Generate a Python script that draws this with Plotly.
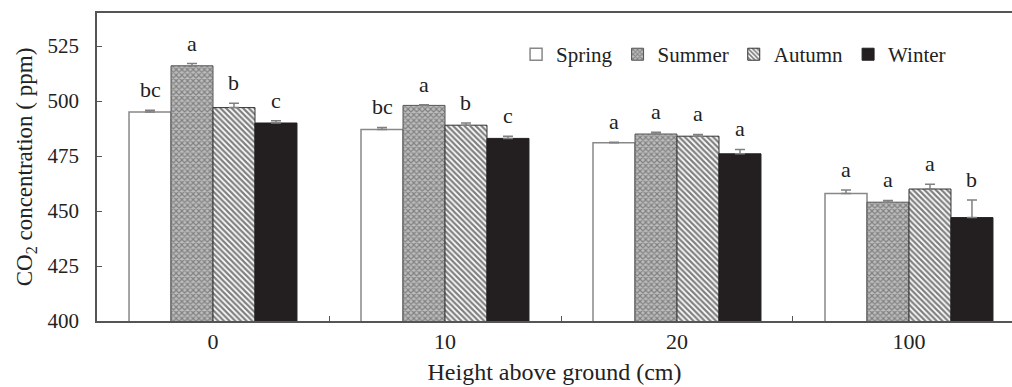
import plotly.graph_objects as go

categories = ["0", "10", "20", "100"]
seasons = ["Spring", "Summer", "Autumn", "Winter"]
spring = [495, 487, 481, 458]
summer = [516, 498, 485, 454]
autumn = [497, 489, 484, 460]
winter = [490, 483, 476, 447]
spring_err = [0.8, 1.0, 0.3, 1.5]
summer_err = [1.0, 0.3, 0.8, 0.8]
autumn_err = [2.0, 1.0, 0.8, 2.2]
winter_err = [1.0, 1.0, 2.0, 8.0]
spring_lbl = ["bc", "bc", "a", "a"]
summer_lbl = ["a", "a", "a", "a"]
autumn_lbl = ["b", "b", "a", "a"]
winter_lbl = ["c", "c", "a", "b"]

FONT = "Times New Roman, Liberation Serif, serif"
values = [spring, summer, autumn, winter]
errs = [spring_err, summer_err, autumn_err, winter_err]
lbls = [spring_lbl, summer_lbl, autumn_lbl, winter_lbl]

styles = [
    dict(color="white", line=dict(color="#888888", width=1.5)),
    dict(color="white", line=dict(color="#555555", width=1),
         pattern=dict(shape="x", fgcolor="#444444", bgcolor="#bdbdbd", size=4, solidity=0.5)),
    dict(color="white", line=dict(color="#333333", width=1),
         pattern=dict(shape="\\", fgcolor="#000000", bgcolor="white", size=4, solidity=0.55)),
    dict(color="#231f20", line=dict(color="#231f20", width=1)),
]

fig = go.Figure()
for i, s in enumerate(seasons):
    fig.add_trace(go.Bar(
        name=s, x=categories, y=values[i], marker=styles[i],
        error_y=dict(type="data", array=errs[i], arrayminus=[0] * 4, symmetric=False,
                     color="#808080", thickness=1.5, width=5),
    ))

# significance letters
n = len(seasons)
bargap = 0.276
bw = (1 - bargap) / n
for i in range(n):
    for j, c in enumerate(categories):
        xpos = j - (1 - bargap) / 2 + bw * (i + 0.5)
        fig.add_annotation(x=xpos, y=values[i][j] + errs[i][j], xref="x", yref="y",
                           text=lbls[i][j], showarrow=False, yanchor="bottom", yshift=6,
                           font=dict(family=FONT, size=22, color="#222"))

fig.update_layout(
    width=1012, height=387,
    margin=dict(l=97, r=0, t=13, b=66),
    paper_bgcolor="white", plot_bgcolor="white",
    barmode="group", bargap=bargap, bargroupgap=0,
    font=dict(family=FONT, color="#222"),
    showlegend=True,
    legend=dict(orientation="h", x=0.458, y=0.865, xanchor="left", yanchor="middle",
                font=dict(family=FONT, size=21, color="#222"), bgcolor="rgba(0,0,0,0)",
                itemwidth=30, traceorder="normal"),
)
fig.update_xaxes(
    type="category", range=[-0.5, 3.444],
    showline=True, linecolor="#555", linewidth=1.5, mirror=True,
    ticks="inside", tickson="boundaries", ticklen=5, tickcolor="#555",
    tickfont=dict(family=FONT, size=22, color="#222"),
    title=dict(text="Height above ground (cm)", font=dict(family=FONT, size=24, color="#222"), standoff=10),
    showgrid=False, automargin=False,
)
fig.update_yaxes(
    range=[400, 540], tickvals=[400, 425, 450, 475, 500, 525],
    showline=True, linecolor="#555", linewidth=1.5, mirror=False,
    ticks="inside", ticklen=5, tickcolor="#555", ticklabelstandoff=12,
    tickfont=dict(family=FONT, size=21, color="#222"),
    title=dict(text="CO<sub>2</sub> concentration ( ppm)", font=dict(family=FONT, size=23, color="#222"), standoff=8),
    showgrid=False, zeroline=False, automargin=False,
)
fig.write_html("out.html")
